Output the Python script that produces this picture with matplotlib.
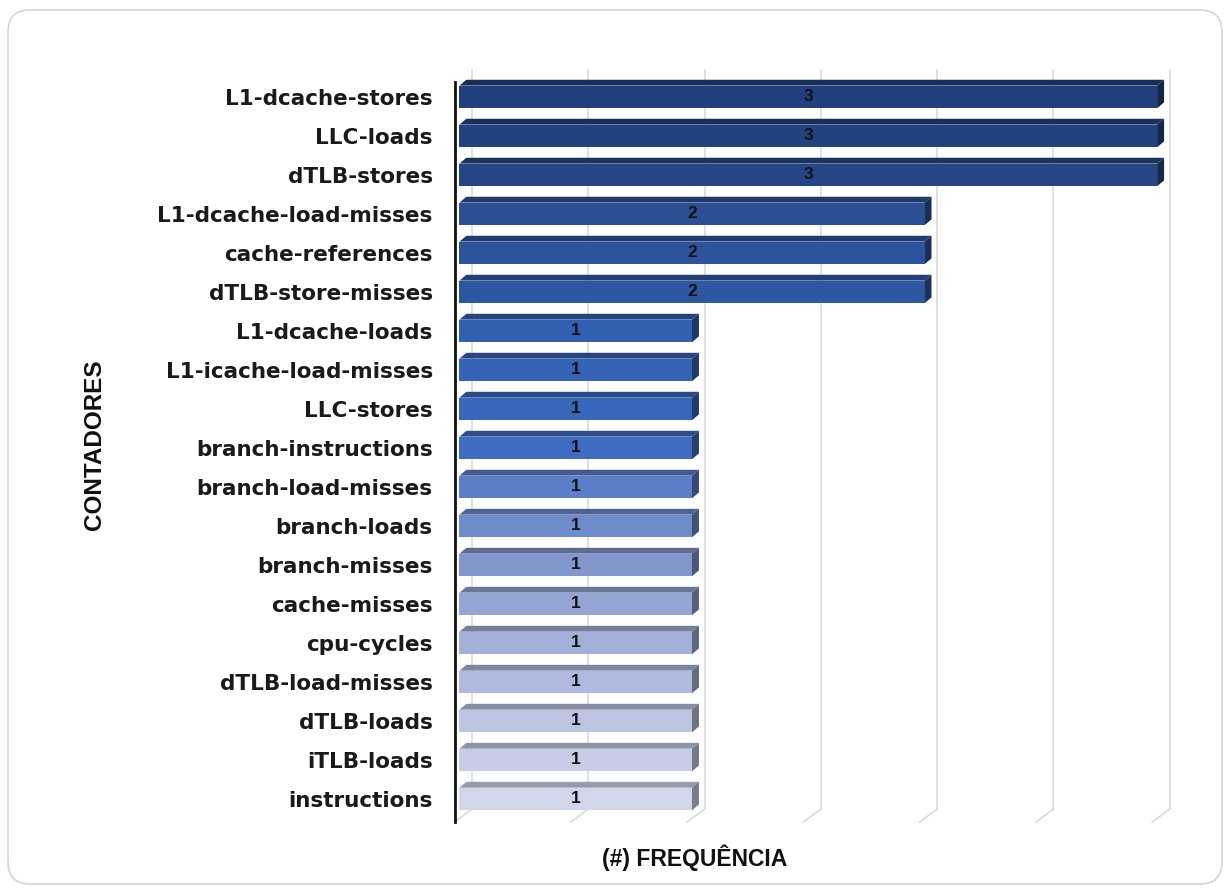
import numpy as np
import matplotlib.pyplot as plt
from matplotlib.patches import Polygon, Rectangle, FancyBboxPatch
from matplotlib.colors import to_rgb

# counters, top to bottom
counters = ['L1-dcache-stores', 'LLC-loads', 'dTLB-stores', 'L1-dcache-load-misses',
            'cache-references', 'dTLB-store-misses', 'L1-dcache-loads',
            'L1-icache-load-misses', 'LLC-stores', 'branch-instructions',
            'branch-load-misses', 'branch-loads', 'branch-misses', 'cache-misses',
            'cpu-cycles', 'dTLB-load-misses', 'dTLB-loads', 'iTLB-loads', 'instructions']
freq = [3, 3, 3, 2, 2, 2, 1, 1, 1, 1, 1, 1, 1, 1, 1, 1, 1, 1, 1]
bar_colors = ['#213f7d', '#22427f', '#254684', '#2a4f93', '#2c539b', '#2e57a1',
              '#3260b0', '#3563b5', '#3867bb', '#3d6cc1', '#5a7ec8', '#6e8bcc',
              '#8296ce', '#95a5d4', '#a3b0d9', '#b0badf', '#bcc4e2', '#c7cde7',
              '#d2d6ec']

W, H = 1227, 891
fig = plt.figure(figsize=(W / 100, H / 100), dpi=100)

# rounded card border
frame = FancyBboxPatch((8 / W, 1 - 884 / H), 1214 / W, 874 / H,
                       boxstyle='round,pad=0,rounding_size=0.018',
                       mutation_aspect=W / H,
                       transform=fig.transFigure, fc='white', ec='#d4d4d4', lw=1.2,
                       zorder=-10)
fig.patches.append(frame)

ax = fig.add_axes([455 / W, 1 - 822 / H, 720 / W, 752 / H])
ax.set_zorder(2)
ax.set_facecolor('none')
ymin, ymax = 18.59, -0.69
xmin, xmax = -0.019, 3.077
ax.set_ylim(ymin, ymax)
ax.set_xlim(xmin, xmax)

# back-wall gridlines with slanted feet (3d look)
goff = 0.054
for k in range(7):
    g = k * 0.5 + goff
    ax.plot([g, g], [18.26, ymax], color='#dadada', lw=1.2, zorder=1, clip_on=False)
    ax.plot([g - 0.075, g], [ymin, 18.26], color='#dadada', lw=1.2, zorder=1, clip_on=False)

# 3d bars
h = 0.58
dx, dy = 0.03, 0.15
for i, (v, c) in enumerate(zip(freq, bar_colors)):
    rgb = np.array(to_rgb(c))
    top_c = rgb * 0.72
    side_c = rgb * 0.58
    y0, y1 = i - h / 2, i + h / 2
    ax.add_patch(Polygon([(0, y0), (v, y0), (v + dx, y0 - dy), (dx, y0 - dy)],
                         closed=True, fc=top_c, ec='none', zorder=3))
    ax.add_patch(Polygon([(v, y0), (v, y1), (v + dx, y1 - dy), (v + dx, y0 - dy)],
                         closed=True, fc=side_c, ec='none', zorder=3))
    ax.add_patch(Rectangle((0, y0), v, h, fc=c, ec='none', zorder=4))
    ax.text(v / 2, i - 0.02, str(v), ha='center', va='center', fontsize=12.5,
            fontweight='bold', color='#111111', zorder=5, family='Liberation Sans')

ax.set_yticks(range(len(counters)))
ax.set_yticklabels(counters, fontsize=15.5, fontweight='bold', color='#1a1a1a')
ax.tick_params(axis='y', length=0, pad=16)
ax.set_xticks([])
for s in ['top', 'right', 'bottom']:
    ax.spines[s].set_visible(False)
ax.spines['left'].set_linewidth(2)
ax.spines['left'].set_color('#111111')
ax.spines['left'].set_bounds(-0.385, ymin)

fig.text(95 / W, 1 - 445 / H, 'CONTADORES', rotation=90, ha='center', va='center',
         fontsize=17.5, fontweight='bold', family='Liberation Sans', color='#111111')
fig.text(695 / W, 1 - 858 / H, '(#) FREQUÊNCIA', ha='center', va='center',
         fontsize=16.5, fontweight='bold', family='Liberation Sans', color='#111111')

fig.savefig('out.png', dpi=100)
